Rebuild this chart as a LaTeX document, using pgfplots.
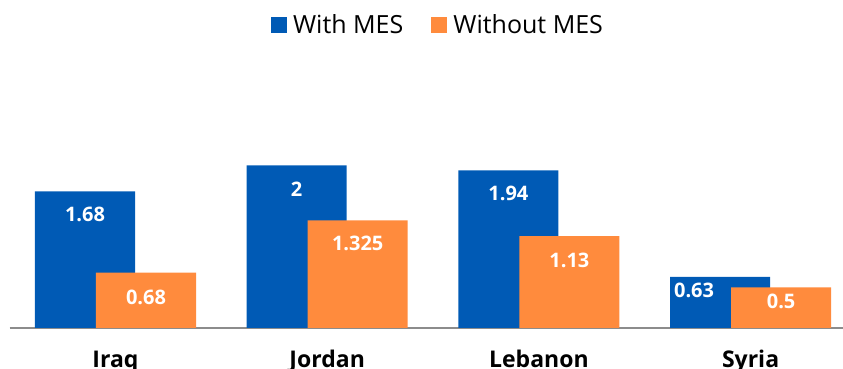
\documentclass[border=0pt]{standalone}
\usepackage{pgfplots}
\usepackage{pgfplotstable}
\pgfplotsset{compat=1.18}
\usepackage{fontspec}
\setmainfont{Open Sans}
\definecolor{mesblue}{RGB}{0,90,181}
\definecolor{mesorange}{RGB}{255,139,61}
\definecolor{axgray}{RGB}{140,140,140}
\pgfplotstableread{
x y lab dx dy
0 1.68 1.68 0 -23
1 2 2 0 -24
2 1.94 1.94 0 -23
3 0.63 0.63 -26 -14
}\withmes
\pgfplotstableread{
x y lab dx dy
0 0.68 0.68 0 -25
1 1.325 1.325 0 -23
2 1.13 1.13 0 -24
3 0.5 0.5 0 -14
}\withoutmes
\begin{document}
\begin{tikzpicture}
\begin{axis}[
  scale only axis,
  width=833.35pt, height=187pt,
  xmin=-0.5, xmax=3.4365,
  ymin=0, ymax=2.3,
  ybar, bar width=100pt,
  axis x line*=bottom,
  axis y line=none,
  x axis line style={-, axgray, line width=1.5pt},
  xtick={0,1,2,3},
  xticklabels={Iraq,Jordan,Lebanon,Syria},
  xtick style={draw=none},
  ytick=\empty,
  xticklabel style={anchor=base, yshift=-35pt, font=\fontsize{23}{26}\selectfont\bfseries, text=black},
  legend style={at={(0.514,1.62)}, anchor=center, draw=none, fill=none,
    legend columns=2, font=\fontsize{25}{28}\selectfont,
    /tikz/every odd column/.append style={column sep=4pt},
    /tikz/every even column/.append style={column sep=26pt}},
  legend image code/.code={\path[#1] (0pt,-8pt) rectangle (16pt,8pt);},
  clip=false,
]
\addplot[fill=mesblue, draw=none, bar shift=-30.5pt,
  nodes near coords, point meta=explicit symbolic,
  visualization depends on={\thisrow{dx} \as \dx},
  visualization depends on={\thisrow{dy} \as \dy},
  nodes near coords align={anchor=center},
  nodes near coords style={anchor=center, xshift=\dx pt, yshift=\dy pt, text=white, font=\fontsize{20}{22}\selectfont\bfseries}]
  table[x=x, y=y, meta=lab] {\withmes};
\addlegendentry{With MES}
\addplot[fill=mesorange, draw=none, bar shift=30.5pt,
  nodes near coords, point meta=explicit symbolic,
  visualization depends on={\thisrow{dx} \as \dx},
  visualization depends on={\thisrow{dy} \as \dy},
  nodes near coords align={anchor=center},
  nodes near coords style={anchor=center, xshift=\dx pt, yshift=\dy pt, text=white, font=\fontsize{20}{22}\selectfont\bfseries}]
  table[x=x, y=y, meta=lab] {\withoutmes};
\addlegendentry{Without MES}
\end{axis}
\pgfresetboundingbox
\path[use as bounding box] (-9.65pt,-41pt) rectangle (833.35pt,328pt);
\end{tikzpicture}
\end{document}
